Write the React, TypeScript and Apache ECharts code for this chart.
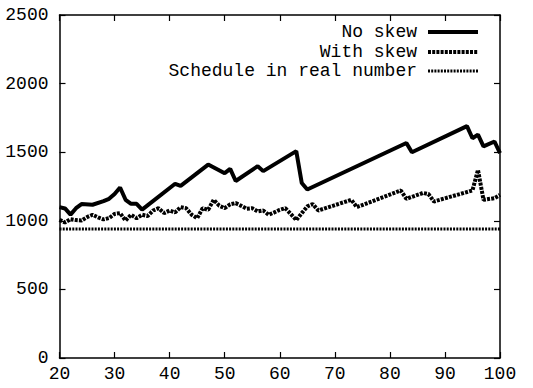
import React, { useEffect, useRef } from "react";
import * as echarts from "echarts";

const seriesNames = ["No skew", "With skew", "Schedule in real number"];

const noSkew: [number, number][] = [
  [20, 1100], [21, 1090], [22, 1045], [23, 1092], [24, 1122], [26, 1117], [28, 1143],
  [29, 1160], [30, 1195], [31, 1243], [32, 1153], [33, 1124], [34, 1124], [35, 1082],
  [41, 1270], [42, 1255], [47, 1410], [50, 1347], [51, 1378], [52, 1290], [56, 1398],
  [57, 1362], [63, 1508], [64, 1275], [65, 1228], [83, 1567], [84, 1500], [94, 1690],
  [95, 1602], [96, 1628], [97, 1543], [99, 1578], [100, 1493],
];

const withSkew: [number, number][] = [
  [20, 1007], [21, 988], [22, 1012], [23, 1005], [24, 1002], [25, 1027], [26, 1044],
  [27, 1025], [28, 1010], [29, 1020], [30, 1050], [31, 1056], [32, 1002], [33, 1044],
  [34, 1019], [35, 1044], [36, 1035], [37, 1075], [38, 1092], [39, 1056], [40, 1075],
  [41, 1061], [42, 1100], [43, 1092], [44, 1044], [45, 1019], [46, 1092], [47, 1080],
  [48, 1153], [49, 1110], [50, 1092], [51, 1120], [52, 1129], [53, 1109], [54, 1088],
  [55, 1092], [56, 1068], [57, 1075], [58, 1044], [59, 1061], [60, 1080], [61, 1092],
  [62, 1050], [63, 1005], [64, 1056], [65, 1105], [66, 1122], [67, 1075], [73, 1153],
  [74, 1100], [82, 1221], [83, 1160], [86, 1203], [87, 1195], [88, 1141], [95, 1221],
  [96, 1371], [97, 1153], [99, 1165], [100, 1189],
];

const schedule: [number, number][] = [
  [20, 940], [100, 940],
];

const xTicks = { min: 20, max: 100, interval: 10 };
const yTicks = { min: 0, max: 2500, interval: 500 };

const lineStyles = [
  { width: 4, dash: null as number[] | null },
  { width: 4, dash: [3, 1.2] },
  { width: 3, dash: [2, 1.2] },
];

export default function App() {
  const ref = useRef<HTMLDivElement>(null);
  useEffect(() => {
    document.body.style.margin = "0";
    if (!ref.current) return;
    const chart = echarts.init(ref.current, undefined, { renderer: "svg" });
    const labelFont = { fontFamily: "Liberation Mono", fontSize: 18, color: "#000" };
    const axisLine = { show: true, onZero: false, lineStyle: { color: "#000", width: 1.5 } };
    const tick = { show: true, inside: true, length: 6, lineStyle: { color: "#000", width: 1.2 } };
    const legendRows = [32, 52, 71];
    const legendGraphics: any[] = [];
    seriesNames.forEach((n, i) => {
      legendGraphics.push({
        type: "text",
        right: 116,
        top: legendRows[i] - 9,
        style: {
          text: n,
          font: "18px 'Liberation Mono'",
          lineHeight: 18,
          fill: "#000",
          textAlign: "right",
        },
      });
      legendGraphics.push({
        type: "line",
        shape: { x1: 428, y1: legendRows[i], x2: 478, y2: legendRows[i] },
        style: {
          stroke: "#000",
          lineWidth: lineStyles[i].width,
          lineDash: lineStyles[i].dash || undefined,
        },
      });
    });
    const mk = (i: number, data: [number, number][]) => ({
      name: seriesNames[i],
      type: "line",
      data,
      showSymbol: false,
      symbol: "none",
      lineStyle: {
        color: "#000",
        width: lineStyles[i].width,
        type: lineStyles[i].dash || "solid",
      },
      itemStyle: { color: "#000" },
    });
    chart.setOption({
      animation: false,
      backgroundColor: "#fff",
      grid: { left: 59.5, right: 33, top: 15, bottom: 30, containLabel: false },
      graphic: legendGraphics,
      xAxis: [
        {
          type: "value", ...xTicks, position: "bottom",
          axisLine, axisTick: tick, splitLine: { show: false },
          axisLabel: { ...labelFont, margin: 7, formatter: (v: number) => String(v) },
        },
        {
          type: "value", ...xTicks, position: "top",
          axisLine, axisTick: tick, splitLine: { show: false },
          axisLabel: { show: false },
        },
      ],
      yAxis: [
        {
          type: "value", ...yTicks, position: "left",
          axisLine, axisTick: tick, splitLine: { show: false },
          axisLabel: { ...labelFont, margin: 11, formatter: (v: number) => String(v) },
        },
        {
          type: "value", ...yTicks, position: "right",
          axisLine, axisTick: tick, splitLine: { show: false },
          axisLabel: { show: false },
        },
      ],
      series: [mk(0, noSkew), mk(1, withSkew), mk(2, schedule)],
    });
    return () => chart.dispose();
  }, []);
  return <div ref={ref} style={{ width: 533, height: 388 }} />;
}
